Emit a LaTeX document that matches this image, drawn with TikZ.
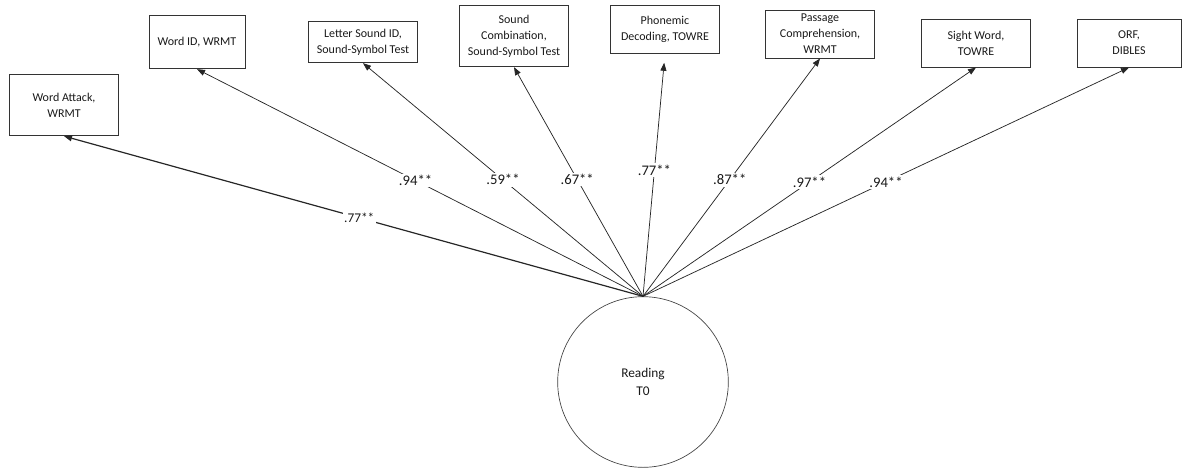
\documentclass[tikz,border=0pt]{standalone}
\usepackage{fontspec}
\setmainfont{Carlito}
\usetikzlibrary{arrows.meta}
\begin{document}
\begin{tikzpicture}[x=0.75pt,y=-0.75pt,
  measure/.style={draw=black!80, line width=0.7pt, align=center, inner sep=1pt,
    font=\fontsize{9}{12}\selectfont, text=black!90},
  latent/.style={draw=black!75, line width=0.5pt, circle, minimum size=128pt,
    inner sep=0pt, align=center, font=\fontsize{10}{14}\selectfont, text=black!90},
  path/.style={draw=black!85, line width=0.55pt, -{Triangle[length=6pt,width=4.5pt]}},
  coef/.style={fill=white, inner sep=1.2pt, font=\fontsize{11}{13}\selectfont, text=black!90}]
\useasboundingbox (0,0) rectangle (1183,469);

% observed indicators
\node[measure, minimum width=82pt, minimum height=46pt] (wa)   at (64,105)   {Word Attack,\\WRMT};
\node[measure, minimum width=72pt, minimum height=40pt] (wid)  at (197,42)   {Word ID, WRMT};
\node[measure, minimum width=82pt, minimum height=31pt] (lsid) at (363,42)   {Letter Sound ID,\\Sound-Symbol Test};
\node[measure, minimum width=82pt, minimum height=46pt] (sc)   at (514,36)   {Sound\\Combination,\\Sound-Symbol Test};
\node[measure, minimum width=82pt, minimum height=36pt] (pd)   at (665,29)   {Phonemic\\Decoding, TOWRE};
\node[measure, minimum width=82pt, minimum height=36pt] (pc)   at (820,34)   {Passage\\Comprehension,\\WRMT};
\node[measure, minimum width=82pt, minimum height=36pt] (sw)   at (976,43)   {Sight Word,\\TOWRE};
\node[measure, minimum width=78pt, minimum height=36pt] (orf)  at (1129,43)  {ORF,\\DIBLES};

% latent factor
\node[latent] (r) at (643,382) {Reading\\T0};

% loadings
\draw[path, line width=0.9pt] (r.north) -- node[coef, pos=0.49, font=\fontsize{10}{12}\selectfont] {.77**} (wa.south);
\draw[path] (r.north) -- node[coef, pos=0.51] {.94**} (wid.south);
\draw[path] (r.north) -- node[coef, pos=0.50] {.59**} (lsid.south);
\draw[path] (r.north) -- node[coef, pos=0.51] {.67**} (sc.south);
\draw[path, shorten >=7pt] (r.north) -- node[coef, pos=0.52] {.77**} (pd.south);
\draw[path] (r.north) -- node[coef, pos=0.49] {.87**} (pc.south);
\draw[path] (r.north) -- node[coef, pos=0.50] {.97**} (sw.south);
\draw[path] (r.north) -- node[coef, pos=0.50] {.94**} (orf.south);
\end{tikzpicture}
\end{document}
